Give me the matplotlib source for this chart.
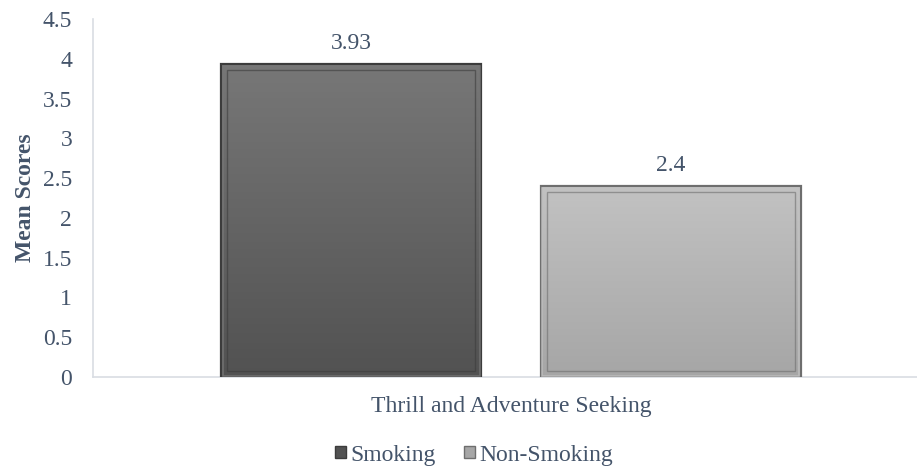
import numpy as np
import matplotlib.pyplot as plt
from matplotlib.patches import Patch, Rectangle

# data
category = 'Thrill and Adventure Seeking'
series = ['Smoking', 'Non-Smoking']
values = [3.93, 2.4]

# looks
text_color = '#44546a'
top_colors = ['#777777', '#c2c2c2']
bottom_colors = ['#525252', '#a6a6a6']
edge_colors = ['#3c3c3c', '#6e6e6e']
offsets = [-0.191, 0.191]
bar_w = 0.311
fs = 17

plt.rcParams['font.family'] = ['Liberation Serif', 'DejaVu Serif']

fig = plt.figure(figsize=(9.17, 4.69), dpi=100)
ax = fig.add_axes([93/917, 1-377/469, 836/917, 358/469])
ax.set_xlim(-0.5, 0.5)
ax.set_ylim(0, 4.5)

px_x = 1/836
px_y = 4.5/358

for i, v in enumerate(values):
    x0 = offsets[i] - bar_w/2
    bar = ax.bar(offsets[i], v, width=bar_w, color='none', edgecolor=edge_colors[i], linewidth=1.6, zorder=3)[0]
    # vertical gradient inside the bar
    c_top = np.array(plt.matplotlib.colors.to_rgb(top_colors[i]))
    c_bot = np.array(plt.matplotlib.colors.to_rgb(bottom_colors[i]))
    t = np.linspace(0, 1, 100)[:, None]
    grad = (c_top * (1 - t) + c_bot * t)[:, None, :]
    im = ax.imshow(grad, extent=[x0, x0 + bar_w, 0, v], aspect='auto', zorder=2, origin='upper')
    im.set_clip_path(bar)
    # bevel
    ins = 6
    ax.add_patch(Rectangle((x0 + ins*px_x, ins*px_y), bar_w - 2*ins*px_x, v - 2*ins*px_y,
                           fill=False, edgecolor=edge_colors[i], linewidth=1.0, alpha=0.6, zorder=4))
    ax.add_patch(Rectangle((x0 + 1.5*px_x, 1.5*px_y), bar_w - 3*px_x, v - 3*px_y,
                           fill=False, edgecolor=top_colors[i], linewidth=1.2, alpha=0.8, zorder=4))
    ax.text(offsets[i], v + 0.13, str(v), ha='center', va='bottom', fontsize=fs, color=text_color)

ax.set_xticks([0])
ax.set_xticklabels([category])
ax.set_yticks(np.arange(0, 4.51, 0.5))
ax.set_yticklabels(['0', '0.5', '1', '1.5', '2', '2.5', '3', '3.5', '4', '4.5'])
ax.tick_params(axis='both', length=0, labelsize=fs, labelcolor=text_color)
ax.tick_params(axis='y', pad=15)
ax.tick_params(axis='x', pad=14)
ax.set_ylabel('Mean Scores', fontsize=fs, fontweight='bold', color=text_color, labelpad=5)

for s in ['top', 'right']:
    ax.spines[s].set_visible(False)
for s in ['left', 'bottom']:
    ax.spines[s].set_color('#d9dde3')
    ax.spines[s].set_linewidth(1.2)

handles = [Patch(facecolor=bottom_colors[i], edgecolor=edge_colors[i]) for i in range(2)]
fig.legend(handles, series, loc='center', bbox_to_anchor=(474/917, 1-455/469), ncol=2, frameon=False,
           fontsize=fs, labelcolor=text_color, handlelength=0.45, handleheight=0.45,
           handletextpad=0.2, columnspacing=1.2)

fig.savefig('out.png', dpi=100)
